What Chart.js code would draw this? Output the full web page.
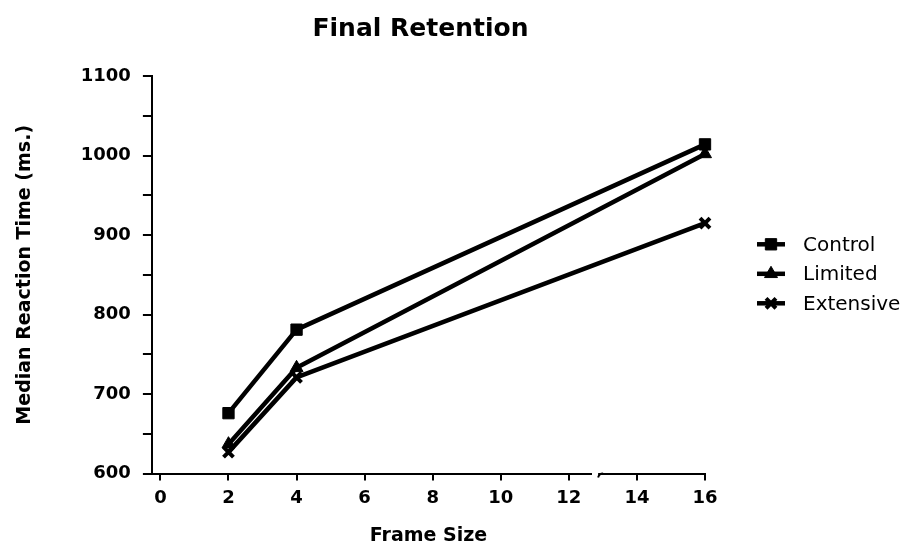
<!DOCTYPE html>
<html>
<head>
<meta charset="utf-8">
<script src="https://cdn.jsdelivr.net/npm/chart.js@4/dist/chart.umd.min.js"></script>
<style>
  html, body { margin: 0; padding: 0; background: #fff; }
  #wrap { width: 912px; height: 552px; }
</style>
</head>
<body>
<div id="wrap"><canvas id="c" width="912" height="552"></canvas></div>
<script>
// ---- data ----
const frameSizes = [2, 4, 16];
const controlRT = [676, 781, 1014];
const limitedRT = [637, 733, 1002];
const extensiveRT = [627, 721, 915];
const seriesNames = ['Control', 'Limited', 'Extensive'];
const xTickValues = [0, 2, 4, 6, 8, 10, 12, 14, 16];
const yTickValues = [600, 700, 800, 900, 1000, 1100];
const chartTitle = 'Final Retention';
const xTitle = 'Frame Size';
const yTitle = 'Median Reaction Time (ms.)';

const FONT = "'DejaVu Sans', 'Liberation Sans', Arial, sans-serif";

function pts(ys) { return frameSizes.map((x, i) => ({ x: x, y: ys[i] })); }

const styles = [
  { pointStyle: 'rect', radius: 8 },
  { pointStyle: 'triangle', radius: 7.5 },
  { pointStyle: 'crossRot', radius: 7 }
];
const allSeries = [controlRT, limitedRT, extensiveRT];

const datasets = allSeries.map((ys, i) => ({
  label: seriesNames[i],
  data: pts(ys),
  borderColor: '#000',
  backgroundColor: '#000',
  borderWidth: 4.5,
  pointStyle: styles[i].pointStyle,
  pointRadius: styles[i].radius,
  pointBorderWidth: i === 2 ? 4 : 1,
  pointBackgroundColor: '#000',
  pointBorderColor: '#000',
  tension: 0,
  fill: false,
  clip: false
}));

const decorPlugin = {
  id: 'decor',
  afterDraw(chart) {
    const ctx = chart.ctx;
    const area = chart.chartArea;
    const xs = chart.scales.x;
    const ys = chart.scales.y;
    ctx.save();
    // title
    ctx.fillStyle = '#000';
    ctx.font = "bold 25px " + FONT;
    ctx.textAlign = 'center';
    ctx.textBaseline = 'middle';
    ctx.fillText(chartTitle, (area.left + area.right) / 2 - 8, 29);

    // axis break between 12 and 14
    const axisY = ys.getPixelForValue(600);
    const b0 = xs.getPixelForValue(12.68);
    const b1 = xs.getPixelForValue(12.86);
    ctx.fillStyle = '#fff';
    ctx.fillRect(b0, axisY - 3, b1 - b0, 6);
    ctx.strokeStyle = '#000';
    ctx.lineWidth = 2;
    ctx.beginPath();
    ctx.moveTo(b1, axisY + 4);
    ctx.quadraticCurveTo(b1 + 1, axisY, b1 + 5, axisY);
    ctx.stroke();

    // legend
    const cy = (area.top + area.bottom) / 2 - 1;
    const gap = 29.5;
    const x0 = area.right + 52;
    ctx.font = "20px " + FONT;
    ctx.textAlign = 'left';
    ctx.textBaseline = 'middle';
    chart.data.datasets.forEach((ds, i) => {
      const y = cy + (i - 1) * gap;
      ctx.strokeStyle = '#000';
      ctx.fillStyle = '#000';
      ctx.lineWidth = 4.5;
      ctx.beginPath();
      ctx.moveTo(x0, y);
      ctx.lineTo(x0 + 28, y);
      ctx.stroke();
      ctx.lineWidth = ds.pointBorderWidth;
      Chart.helpers.drawPoint(ctx, {
        pointStyle: ds.pointStyle,
        radius: ds.pointRadius,
        borderWidth: ds.pointBorderWidth,
        rotation: 0
      }, x0 + 14, y);
      ctx.fillStyle = '#000';
      ctx.fillText(ds.label, x0 + 46, y + 1);
    });
    ctx.restore();
  }
};

new Chart(document.getElementById('c'), {
  type: 'line',
  data: { datasets: datasets },
  plugins: [decorPlugin],
  options: {
    responsive: false,
    devicePixelRatio: 1,
    animation: false,
    layout: { padding: { top: 76, right: 207, left: 14, bottom: 5 } },
    plugins: {
      legend: { display: false },
      title: { display: false },
      tooltip: { enabled: false }
    },
    elements: { line: { borderCapStyle: 'round', borderJoinStyle: 'round' } },
    scales: {
      x: {
        type: 'linear',
        min: -0.25,
        max: 16,
        afterBuildTicks(scale) { scale.ticks = xTickValues.map(v => ({ value: v })); },
        grid: { drawOnChartArea: false, drawTicks: true, tickLength: 7, color: '#000', lineWidth: 2 },
        border: { display: true, color: '#000', width: 2 },
        ticks: {
          color: '#000',
          font: { family: FONT, size: 18, weight: 'bold' },
          padding: 7,
          maxRotation: 0,
          autoSkip: false
        },
        title: {
          display: true,
          text: xTitle,
          color: '#000',
          font: { family: FONT, size: 19, weight: 'bold' },
          padding: { top: 8, bottom: 0 }
        }
      },
      y: {
        type: 'linear',
        min: 600,
        max: 1100,
        afterBuildTicks(scale) {
          const t = [];
          for (let i = 0; i < yTickValues.length; i++) {
            t.push({ value: yTickValues[i] });
            if (i < yTickValues.length - 1) t.push({ value: (yTickValues[i] + yTickValues[i + 1]) / 2 });
          }
          scale.ticks = t;
        },
        grid: { drawOnChartArea: false, drawTicks: true, tickLength: 9, color: '#000', lineWidth: 2 },
        border: { display: true, color: '#000', width: 2 },
        ticks: {
          color: '#000',
          font: { family: FONT, size: 18, weight: 'bold' },
          padding: 12,
          autoSkip: false,
          callback(v) { return yTickValues.includes(v) ? String(v) : ''; }
        },
        title: {
          display: true,
          text: yTitle,
          color: '#000',
          font: { family: FONT, size: 19, weight: 'bold' },
          padding: { top: 0, bottom: 32 }
        }
      }
    }
  }
});
</script>
</body>
</html>
